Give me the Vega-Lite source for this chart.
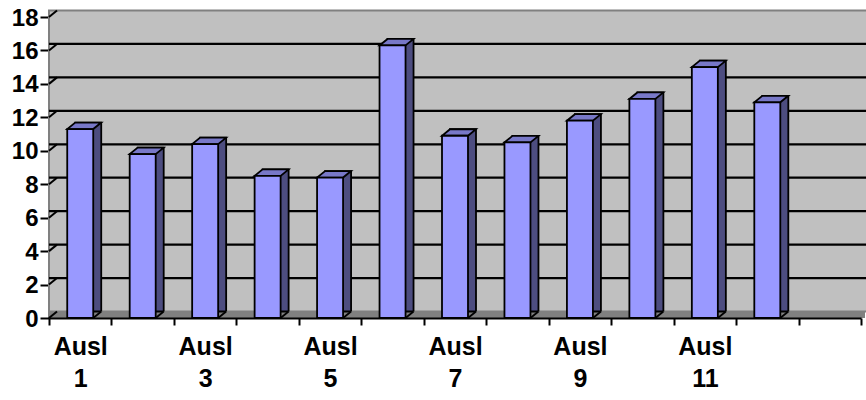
{
  "$schema": "https://vega.github.io/schema/vega-lite/v6.json",
  "width": 812,
  "height": 301,
  "autosize": "none",
  "padding": {"left": 49, "top": 17, "right": 5, "bottom": 82},
  "background": "white",
  "view": {"fill": "#C0C0C0", "stroke": null},
  "config": {
    "font": "Liberation Sans",
    "axisY": {"labelOverlap": false, "title": null, "grid": false, "labelFontWeight": "bold", "labelFontSize": 24, "labelColor": "black", "tickColor": "black", "tickSize": 9, "tickWidth": 2, "domainColor": "black", "domainWidth": 2, "labelPadding": 2, "labelOffset": 1, "zindex": 1}
  },
  "datasets": {
    "bars": [
      {"cat": "Ausl 1", "value": 11.3},
      {"cat": "Ausl 2", "value": 9.8},
      {"cat": "Ausl 3", "value": 10.4},
      {"cat": "Ausl 4", "value": 8.5},
      {"cat": "Ausl 5", "value": 8.4},
      {"cat": "Ausl 6", "value": 16.3},
      {"cat": "Ausl 7", "value": 10.9},
      {"cat": "Ausl 8", "value": 10.5},
      {"cat": "Ausl 9", "value": 11.8},
      {"cat": "Ausl 10", "value": 13.1},
      {"cat": "Ausl 11", "value": 15.0},
      {"cat": "Ausl 12", "value": 12.9}
    ],
    "grid": [{"v": 0}, {"v": 2}, {"v": 4}, {"v": 6}, {"v": 8}, {"v": 10}, {"v": 12}, {"v": 14}, {"v": 16}, {"v": 18}],
    "one": [{"k": 1}]
  },
  "layer": [
    {
      "data": {"name": "one"},
      "mark": {"type": "rect", "fill": "#C0C0C0", "stroke": "#808080", "strokeWidth": 2, "xOffset": 8, "x2Offset": 8, "yOffset": -6.5, "y2Offset": -6.5},
      "encoding": {
        "y": {"datum": 18, "type": "quantitative", "scale": {"domain": [0, 18], "nice": false, "zero": true}, "axis": {"values": [0, 2, 4, 6, 8, 10, 12, 14, 16, 18], "labelOverlap": false}},
        "y2": {"datum": 0}
      }
    },
    {
      "data": {"name": "one"},
      "mark": {"type": "rect", "fill": "#808080", "xOffset": 4, "x2Offset": 4, "yOffset": -6.5, "y2Offset": 0},
      "encoding": {
        "y": {"datum": 0, "type": "quantitative", "scale": {"domain": [0, 18], "nice": false, "zero": true}, "axis": {"values": [0, 2, 4, 6, 8, 10, 12, 14, 16, 18], "labelOverlap": false}},
        "y2": {"datum": 0}
      }
    },
    {
      "data": {"name": "grid"},
      "transform": [{"filter": "datum.v > 0 && datum.v < 18"}],
      "mark": {"type": "rule", "stroke": "black", "strokeWidth": 2.3, "xOffset": 8, "x2Offset": 8, "yOffset": -6.5},
      "encoding": {
        "y": {"field": "v", "type": "quantitative", "scale": {"domain": [0, 18], "nice": false, "zero": true}, "axis": {"values": [0, 2, 4, 6, 8, 10, 12, 14, 16, 18], "labelOverlap": false}}
      }
    },
    {
      "data": {"name": "grid"},
      "mark": {"type": "point", "shape": "M -31.23 0 L -23.23 -6.5", "size": 4, "filled": false, "stroke": "black", "strokeWidth": 2, "opacity": 1},
      "encoding": {
        "x": {"datum": "Ausl 1", "type": "nominal", "scale": {"domain": ["Ausl 1", "Ausl 2", "Ausl 3", "Ausl 4", "Ausl 5", "Ausl 6", "Ausl 7", "Ausl 8", "Ausl 9", "Ausl 10", "Ausl 11", "Ausl 12", ""], "paddingInner": 0, "paddingOuter": 0},
          "axis": {"title": null, "tickBand": "extent", "labelExpr": "indexof(['Ausl 1','Ausl 3','Ausl 5','Ausl 7','Ausl 9','Ausl 11'], datum.value) >= 0 ? split(datum.value, ' ') : ''", "labelAngle": 0, "labelFontSize": 25, "labelFontWeight": "bold", "labelColor": "black", "labelLineHeight": 32, "labelPadding": 9, "labelBaseline": "top", "tickSize": 7, "tickWidth": 2, "tickColor": "black", "domainColor": "black", "domainWidth": 2, "zindex": 1}},
        "y": {"field": "v", "type": "quantitative", "scale": {"domain": [0, 18], "nice": false, "zero": true}, "axis": {"values": [0, 2, 4, 6, 8, 10, 12, 14, 16, 18], "labelOverlap": false}}
      }
    },
    {
      "data": {"name": "bars"},
      "mark": {"type": "bar", "width": {"band": 0.4163}, "fill": "#4D4D80", "stroke": "black", "strokeWidth": 1.8, "xOffset": 8, "yOffset": -6.5, "y2Offset": 0},
      "encoding": {
        "x": {"field": "cat", "type": "nominal", "sort": null},
        "y": {"field": "value", "type": "quantitative", "scale": {"domain": [0, 18], "nice": false, "zero": true}, "axis": {"values": [0, 2, 4, 6, 8, 10, 12, 14, 16, 18], "labelOverlap": false}}
      }
    },
    {
      "data": {"name": "bars"},
      "mark": {"type": "point", "shape": "M 13 1 L 23 1 L 23 -6.5 L 21 -6.5 Z", "size": 4, "filled": true, "fill": "#808080", "strokeWidth": 0, "opacity": 1},
      "encoding": {
        "x": {"field": "cat", "type": "nominal", "sort": null},
        "y": {"datum": 0, "type": "quantitative", "scale": {"domain": [0, 18], "nice": false, "zero": true}, "axis": {"values": [0, 2, 4, 6, 8, 10, 12, 14, 16, 18], "labelOverlap": false}}
      }
    },
    {
      "data": {"name": "bars"},
      "mark": {"type": "point", "shape": "M 13 0 L 21 -6.5", "size": 4, "filled": false, "stroke": "black", "strokeWidth": 1.8, "opacity": 1},
      "encoding": {
        "x": {"field": "cat", "type": "nominal", "sort": null},
        "y": {"datum": 0, "type": "quantitative", "scale": {"domain": [0, 18], "nice": false, "zero": true}, "axis": {"values": [0, 2, 4, 6, 8, 10, 12, 14, 16, 18], "labelOverlap": false}}
      }
    },
    {
      "data": {"name": "bars"},
      "mark": {"type": "point", "shape": "M -13 0 L 13 0 L 21 -6.5 L -5 -6.5 Z", "size": 4, "filled": true, "fill": "#7878C8", "stroke": "black", "strokeWidth": 1.8, "opacity": 1},
      "encoding": {
        "x": {"field": "cat", "type": "nominal", "sort": null},
        "y": {"field": "value", "type": "quantitative", "scale": {"domain": [0, 18], "nice": false, "zero": true}, "axis": {"values": [0, 2, 4, 6, 8, 10, 12, 14, 16, 18], "labelOverlap": false}}
      }
    },
    {
      "data": {"name": "bars"},
      "mark": {"type": "bar", "width": {"band": 0.4163}, "fill": "#9999FF", "stroke": "black", "strokeWidth": 1.8},
      "encoding": {
        "x": {"field": "cat", "type": "nominal", "sort": null},
        "y": {"field": "value", "type": "quantitative", "scale": {"domain": [0, 18], "nice": false, "zero": true}, "axis": {"values": [0, 2, 4, 6, 8, 10, 12, 14, 16, 18], "labelOverlap": false}}
      }
    }
  ]
}
